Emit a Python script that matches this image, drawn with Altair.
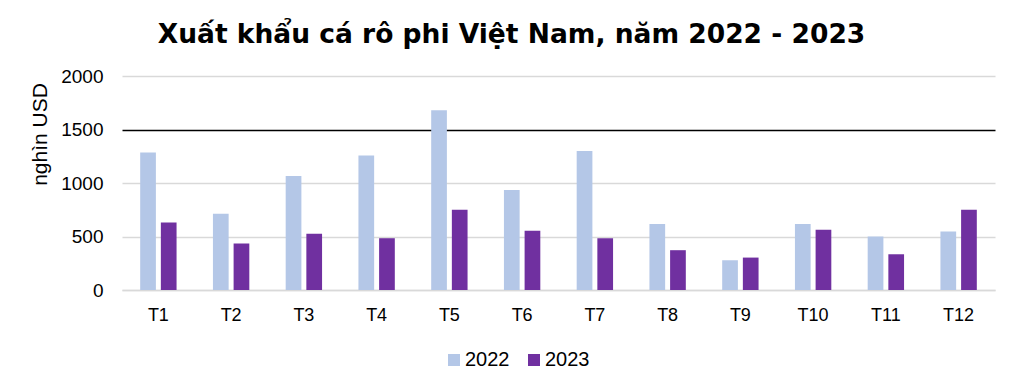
import altair as alt
import pandas as pd

months = ["T1", "T2", "T3", "T4", "T5", "T6", "T7", "T8", "T9", "T10", "T11", "T12"]
years = ["2022", "2023"]
values_2022 = [1285, 712, 1066, 1256, 1681, 934, 1300, 616, 278, 616, 500, 547]
values_2023 = [631, 434, 525, 484, 750, 553, 484, 372, 303, 562, 334, 750]
y_ticks = [0, 500, 1000, 1500, 2000]
colors = ["#b4c7e7", "#7030a0"]

rows = []
for m, a, b in zip(months, values_2022, values_2023):
    rows.append({"month": m, "year": "2022", "value": a})
    rows.append({"month": m, "year": "2023", "value": b})
df = pd.DataFrame(rows)

FONT = "Liberation Sans"

chart = alt.Chart(df).mark_bar().encode(
    x=alt.X("month:N", sort=months,
            scale=alt.Scale(paddingInner=0.5, paddingOuter=0.25),
            axis=alt.Axis(title=None, labelAngle=0, labelFontSize=18, labelColor="#000000",
                          labelFont=FONT, ticks=False, domainColor="#d9d9d9", domainWidth=1.3,
                          labelPadding=16)),
    xOffset=alt.XOffset("year:N", sort=years, scale=alt.Scale(paddingInner=0.24)),
    y=alt.Y("value:Q", scale=alt.Scale(domain=[0, 2000], nice=False),
            axis=alt.Axis(title="nghìn USD", values=y_ticks, format="d", titleFontSize=21,
                          titleFont=FONT, titleFontWeight="normal", titleColor="#000000",
                          titleX=-82, titleY=58, titleAngle=270, titleAlign="center",
                          titleBaseline="middle",
                          labelFontSize=19, labelFont=FONT, labelColor="#000000",
                          ticks=False, domain=False, labelPadding=19, titlePadding=12,
                          gridColor=alt.condition("datum.value == 1500", alt.value("#000000"), alt.value("#d9d9d9")),
                          gridWidth=1.3)),
    color=alt.Color("year:N", sort=years, scale=alt.Scale(domain=years, range=colors),
                    legend=alt.Legend(title=None, orient="none", direction="horizontal",
                                      legendX=322, legendY=274,
                                      symbolType="square", symbolSize=144, symbolStrokeWidth=0,
                                      labelFontSize=20, labelFont=FONT, labelColor="#000000",
                                      labelOffset=1, columnPadding=14, symbolOffset=0)),
).properties(
    width=873,
    height=214,
    title=alt.TitleParams("Xuất khẩu cá rô phi Việt Nam, năm 2022 - 2023", fontSize=26.5,
                          font="DejaVu Sans", fontWeight="bold", color="#000000",
                          anchor="middle", offset=19, dx=-47),
    padding={"left": 21, "top": 13, "right": 5, "bottom": 5},
).configure_view(stroke=None)

chart.save("out.html", embed_options={"renderer": "svg", "actions": False})
